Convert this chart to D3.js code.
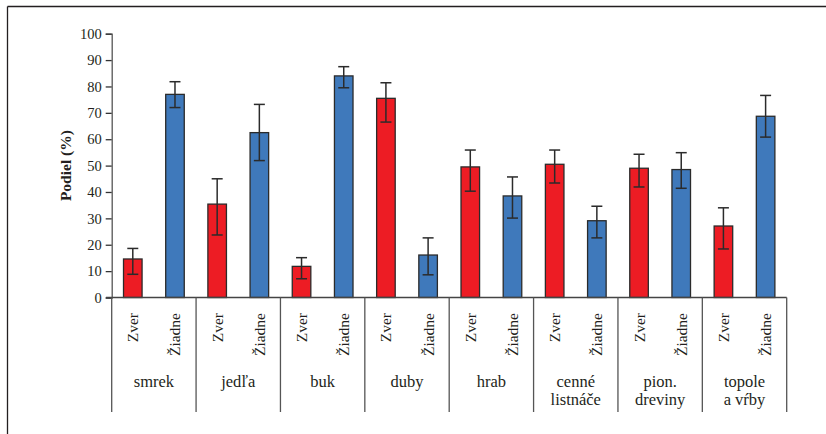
<!DOCTYPE html>
<html><head><meta charset="utf-8">
<script src="https://cdn.jsdelivr.net/npm/d3@7"></script>
<style>
body{margin:0;background:#fff;}
svg text{font-family:'Liberation Serif','Times New Roman','DejaVu Serif',serif !important;fill:#231f20;}
</style></head>
<body><svg id="c" width="826" height="434"></svg>
<script>
const groups = ["smrek","jedľa","buk","duby","hrab","cenné listnáče","pion. dreviny","topole a vŕby"];
const groupLines = [["smrek"],["jedľa"],["buk"],["duby"],["hrab"],["cenné","listnáče"],["pion.","dreviny"],["topole","a vŕby"]];
const subs = ["Zver","Žiadne"];
const zverVal = [14.6,35.4,11.8,75.5,49.5,50.5,49.0,27.1];
const zverLo  = [8.8,23.7,7.1,66.5,40.3,43.4,41.9,18.4];
const zverHi  = [18.6,45.0,15.1,81.4,55.9,55.9,54.3,34.0];
const ziadVal = [77.0,62.5,84.0,16.1,38.5,29.1,48.5,68.7];
const ziadLo  = [72.0,51.9,79.5,8.6,30.1,22.6,41.4,60.8];
const ziadHi  = [81.8,73.2,87.5,22.6,45.7,34.6,54.9,76.6];
const yTicks = [0,10,20,30,40,50,60,70,80,90,100];
const yTitle = "Podiel (%)";
const colors = {"Zver":"#ed1c24","Žiadne":"#3f79bb"};

const svg = d3.select("#c");
svg.append("line").attr("x1",7.5).attr("x2",826).attr("y1",6.5).attr("y2",6.5).attr("stroke","#231f20").attr("stroke-width",1.3);
svg.append("line").attr("x1",7.5).attr("x2",7.5).attr("y1",6.5).attr("y2",434).attr("stroke","#231f20").attr("stroke-width",1.3);

const x0 = d3.scaleBand().domain(groups).range([111.7,786.7]).padding(0);
const x1 = d3.scaleBand().domain(subs).range([0,x0.bandwidth()]).paddingInner(0.56).paddingOuter(0.28);
const y = d3.scaleLinear().domain([0,100]).range([297.5,33.7]);

const yAxis = d3.axisLeft(y).tickValues(yTicks).tickSize(6).tickPadding(4);
const ga = svg.append("g").attr("transform","translate(111.7,0)").call(yAxis).attr("font-family",null).attr("font-size",null);
ga.select(".domain").attr("stroke","#555").attr("stroke-width",1.3);
ga.selectAll(".tick line").attr("stroke","#333").attr("stroke-width",1.3);
ga.selectAll(".tick text").style("font-size","14.5px").attr("fill","#231f20");

svg.append("text").attr("transform","translate(71,165.6) rotate(-90)").attr("text-anchor","middle")
  .style("font-size","15.5px").style("font-weight","bold").text(yTitle);

const rows = [];
groups.forEach((g,i)=>{
  rows.push({g,s:"Zver",v:zverVal[i],lo:zverLo[i],hi:zverHi[i]});
  rows.push({g,s:"Žiadne",v:ziadVal[i],lo:ziadLo[i],hi:ziadHi[i]});
});
const bw = x1.bandwidth();
svg.append("g").selectAll("rect").data(rows).join("rect")
  .attr("x",d=>x0(d.g)+x1(d.s)).attr("width",bw)
  .attr("y",d=>y(d.v)).attr("height",d=>y(0)-y(d.v))
  .attr("fill",d=>colors[d.s]).attr("stroke","#2b2b2b").attr("stroke-width",1.3);

const ge = svg.append("g").attr("stroke","#2b2b2b").attr("stroke-width",1.5);
rows.forEach(d=>{
  const cx = x0(d.g)+x1(d.s)+bw/2;
  ge.append("line").attr("x1",cx).attr("x2",cx).attr("y1",y(d.hi)).attr("y2",y(d.lo));
  ge.append("line").attr("x1",cx-5.5).attr("x2",cx+5.5).attr("y1",y(d.hi)).attr("y2",y(d.hi));
  ge.append("line").attr("x1",cx-5.5).attr("x2",cx+5.5).attr("y1",y(d.lo)).attr("y2",y(d.lo));
});

svg.append("line").attr("x1",106).attr("x2",786.7).attr("y1",297.5).attr("y2",297.5).attr("stroke","#444").attr("stroke-width",1.3);
const divs = groups.map(g=>x0(g)).concat([x0.range()[1]]);
svg.selectAll(".div").data(divs).join("line").attr("class","div")
  .attr("x1",d=>d).attr("x2",d=>d).attr("y1",297.5).attr("y2",412).attr("stroke","#555").attr("stroke-width",1.3);

rows.forEach(d=>{
  const cx = x0(d.g)+x1(d.s)+bw/2;
  svg.append("text").attr("transform",`translate(${cx+5.5},313) rotate(-90)`).attr("text-anchor","end")
    .style("font-size","15.5px").text(d.s);
});
groupLines.forEach((lines,i)=>{
  const cx = x0(groups[i])+x0.bandwidth()/2;
  const t = svg.append("text").attr("text-anchor","middle").style("font-size","16.5px");
  lines.forEach((l,j)=>t.append("tspan").attr("x",cx).attr("y",387+j*18).text(l));
});
</script></body></html>
